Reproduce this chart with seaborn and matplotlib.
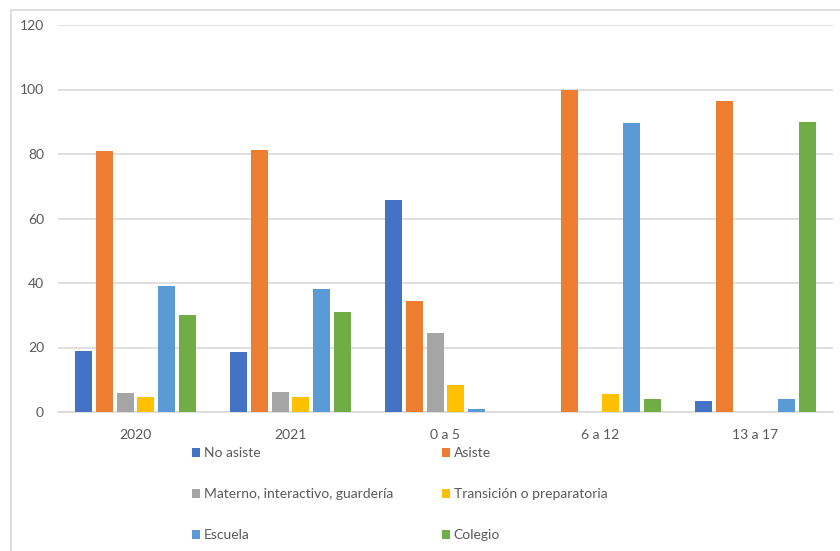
import matplotlib
matplotlib.use("Agg")
import matplotlib.pyplot as plt
from matplotlib.patches import Patch, Rectangle
import seaborn as sns
import pandas as pd

categories = ["2020", "2021", "0 a 5", "6 a 12", "13 a 17"]
series = ["No asiste", "Asiste", "Materno, interactivo, guardería",
          "Transición o preparatoria", "Escuela", "Colegio"]
no_asiste = [19.0, 18.7, 65.6, 0.0, 3.5]
asiste = [81.0, 81.3, 34.4, 100.0, 96.5]
materno = [5.8, 6.3, 24.6, 0.0, 0.0]
transicion = [4.8, 4.5, 8.4, 5.6, 0.0]
escuela = [39.0, 38.0, 0.9, 89.6, 4.0]
colegio = [30.0, 30.9, 0.0, 4.0, 89.8]
colors = ["#4472C4", "#ED7D31", "#A5A5A5", "#FFC000", "#5B9BD5", "#70AD47"]

values = [no_asiste, asiste, materno, transicion, escuela, colegio]
rows = []
for s, vals in zip(series, values):
    for c, v in zip(categories, vals):
        rows.append({"cat": c, "serie": s, "val": v})
df = pd.DataFrame(rows)

sns.set_style("white")
plt.rcParams["font.family"] = ["Lato", "DejaVu Sans"]

fig = plt.figure(figsize=(8.4, 5.51), dpi=100)
ax = fig.add_axes([58 / 840, 1 - 412 / 551, 775 / 840, 387 / 551])

sns.barplot(data=df, x="cat", y="val", hue="serie", hue_order=series,
            order=categories, palette=colors, width=0.8, gap=0.18,
            linewidth=0, saturation=1, legend=False,
            ax=ax, zorder=3)

ax.set_ylim(0, 120)
ax.set_xlim(-0.5, 4.5)
ax.set_yticks(range(0, 121, 20))
ax.yaxis.grid(True, color="#d9d9d9", linewidth=1.2, zorder=0)
ax.set_axisbelow(True)
for sp in ["top", "right", "left"]:
    ax.spines[sp].set_visible(False)
ax.spines["bottom"].set_color("#d9d9d9")
ax.spines["bottom"].set_linewidth(1.2)
ax.tick_params(axis="both", length=0, labelsize=10, labelcolor="#595959")
ax.tick_params(axis="y", pad=10)
ax.tick_params(axis="x", pad=12)
ax.set_xlabel("")
ax.set_ylabel("")

# chart border
fig.patches.append(Rectangle((11 / 840, -0.01), 840 / 840, 1 - 10 / 551 + 0.01,
                             transform=fig.transFigure, fill=False,
                             edgecolor="#d9d9d9", linewidth=1.2))

handles = [Patch(facecolor=c, edgecolor="none") for c in colors]
leg_kw = dict(frameon=False, fontsize=10, handlelength=0.6, handleheight=0.6,
              handletextpad=0.25, labelspacing=2.1, borderpad=0, borderaxespad=0,
              labelcolor="#595959")
l1 = fig.legend([handles[0], handles[2], handles[4]],
                [series[0], series[2], series[4]],
                loc="upper left", bbox_to_anchor=(192 / 840, 1 - 447 / 551), **leg_kw)
l2 = fig.legend([handles[1], handles[3], handles[5]],
                [series[1], series[3], series[5]],
                loc="upper left", bbox_to_anchor=(442 / 840, 1 - 447 / 551), **leg_kw)

fig.savefig("out.png", dpi=100)
